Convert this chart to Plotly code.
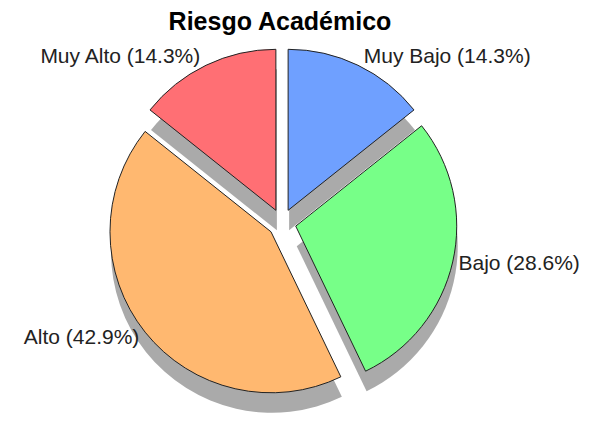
import math
import plotly.graph_objects as go

categorias = ["Muy Bajo", "Bajo", "Alto", "Muy Alto"]
estudiantes = [1, 2, 3, 1]
colores = ["#6FA0FF", "#77FF88", "#FFB870", "#FF6F74"]
titulo = "Riesgo Académico"

W, H = 589, 423
cx, cy, r = 282, 223, 161
pull = 0.0875
dx_s, dy_s = 1, 20
font = "Liberation Sans, Arial, sans-serif"

def dom(cx_, cy_, half):
    return dict(x=[(cx_ - half) / W, (cx_ + half) / W],
                y=[(H - cy_ - half) / H, (H - cy_ + half) / H])

fig = go.Figure()

# shadow: one trace per slice, each slice shifted like the exploded slice
total = sum(estudiantes)
cum = 0
for i, v in enumerate(estudiantes):
    th = 2 * math.pi * (cum + v / 2) / total
    cum += v
    ox = pull * r * math.sin(th)
    oy = -pull * r * math.cos(th)
    cols = ["rgba(0,0,0,0)"] * len(estudiantes)
    cols[i] = "#AAAAAA"
    fig.add_trace(go.Pie(
        labels=[f"s{i}_{c}" for c in categorias], values=estudiantes,
        marker=dict(colors=cols, line=dict(width=0)),
        sort=False, direction="clockwise", rotation=0, automargin=False,
        textinfo="none", hoverinfo="skip", showlegend=False,
        domain=dom(cx + ox + dx_s, cy + oy + dy_s, r),
    ))

fig.add_trace(go.Pie(
    labels=categorias, values=estudiantes,
    marker=dict(colors=colores, line=dict(color="#222222", width=1)),
    pull=[pull] * len(categorias), sort=False, direction="clockwise", rotation=0,
    automargin=False,
    textposition="outside", texttemplate="%{label} (%{percent:.1%})",
    textfont=dict(family=font, size=21, color="#222222"),
    showlegend=False,
    domain=dom(cx, cy, r * (1 + pull)),
))
fig.update_layout(
    width=W, height=H, margin=dict(l=0, r=0, t=0, b=0),
    paper_bgcolor="white", plot_bgcolor="white",
    title=dict(text="<b>" + titulo + "</b>", x=280 / W, xanchor="center",
               y=1 - 21 / H, yanchor="middle",
               font=dict(family=font, size=25, color="#000000")),
)
fig.write_html("out.html", config={"displayModeBar": False},
               post_script="document.body.style.margin='0';")
